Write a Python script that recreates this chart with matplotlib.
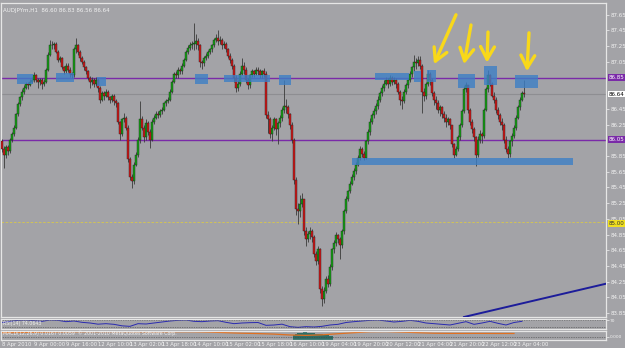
import numpy as np
import matplotlib
matplotlib.use("Agg")
import matplotlib.pyplot as plt
from matplotlib.patches import Rectangle

# AUDJPYm H1, one value per bar
first_open = 86.04
closes = [
    85.94, 85.86, 85.96, 85.91, 86.06, 86.13, 86.21, 86.38, 86.51, 86.60, 86.67, 86.72, 86.77, 86.75, 86.80, 86.82,
    86.88, 86.82, 86.80, 86.82, 86.77, 86.80, 86.95, 87.14, 87.27, 87.26, 87.28, 87.18, 87.08, 87.10, 86.98, 86.93,
    87.00, 86.95, 86.90, 86.88, 87.21, 87.26, 87.18, 87.10, 87.05, 86.98, 86.93, 86.85, 86.80, 86.82, 86.77, 86.82,
    86.72, 86.57, 86.65, 86.62, 86.67, 86.60, 86.57, 86.62, 86.55, 86.52, 86.29, 86.13, 86.32, 86.34, 86.21, 85.81,
    85.58, 85.53, 85.74, 85.87, 86.06, 86.32, 86.21, 86.09, 86.27, 86.16, 86.06, 86.29, 86.34, 86.39, 86.37, 86.42,
    86.44, 86.52, 86.55, 86.57, 86.67, 86.80, 86.90, 86.88, 86.95, 86.93, 87.00, 87.08, 87.18, 87.23, 87.27, 87.28,
    87.28, 87.31, 87.26, 87.05, 87.03, 87.10, 87.13, 87.18, 87.21, 87.26, 87.33, 87.36, 87.31, 87.33, 87.27, 87.28,
    87.21, 87.13, 87.08, 87.00, 86.85, 86.72, 86.77, 86.90, 87.00, 86.95, 86.82, 86.75, 86.88, 86.93, 86.90, 86.95,
    86.93, 86.88, 86.93, 86.90, 86.37, 86.32, 86.13, 86.21, 86.32, 86.19, 86.27, 86.34, 86.44, 86.49, 86.47, 86.38,
    86.25, 86.06, 85.55, 85.17, 85.15, 85.24, 85.30, 84.89, 84.79, 84.86, 84.89, 84.82, 84.60, 84.51, 84.66, 84.16,
    84.03, 84.13, 84.28, 84.22, 84.44, 84.66, 84.74, 84.84, 84.79, 84.72, 84.89, 85.15, 85.30, 85.40, 85.50, 85.58,
    85.66, 85.74, 85.83, 85.94, 85.88, 85.83, 86.04, 86.16, 86.29, 86.37, 86.42, 86.49, 86.57, 86.65, 86.72, 86.77,
    86.82, 86.77, 86.85, 86.80, 86.82, 86.77, 86.67, 86.57, 86.55, 86.67, 86.75, 86.82, 86.90, 86.98, 87.05, 87.03,
    87.08, 87.00, 86.67, 86.62, 86.77, 86.90, 86.82, 86.65, 86.57, 86.52, 86.44, 86.47, 86.39, 86.34, 86.29, 86.32,
    86.24, 86.00, 85.87, 85.94, 86.09, 86.24, 86.42, 86.70, 86.75, 86.44, 86.29, 86.19, 86.09, 85.87, 86.06, 86.13,
    86.11, 86.44, 86.70, 86.88, 86.77, 86.62, 86.57, 86.44, 86.37, 86.29, 86.24, 86.06, 85.94, 85.88, 86.04, 86.11,
    86.21, 86.34, 86.47, 86.57, 86.65, 86.64,
]
highs = [
    86.07, 85.98, 85.99, 85.99, 86.08, 86.16, 86.24, 86.40, 86.54, 86.62, 86.70, 86.75, 86.80, 86.80, 86.83, 86.86,
    86.92, 86.89, 86.85, 86.84, 86.84, 86.83, 86.97, 87.17, 87.33, 87.31, 87.30, 87.30, 87.20, 87.12, 87.11, 87.00,
    87.03, 87.03, 86.98, 86.92, 87.24, 87.36, 87.28, 87.20, 87.12, 87.07, 87.00, 86.95, 86.87, 86.86, 86.85, 86.86,
    86.84, 86.74, 86.68, 86.68, 86.70, 86.69, 86.62, 86.64, 86.64, 86.58, 86.54, 86.30, 86.34, 86.40, 86.36, 86.24,
    85.84, 85.62, 85.77, 85.90, 86.09, 86.55, 86.36, 86.25, 86.32, 86.30, 86.20, 86.32, 86.37, 86.42, 86.43, 86.45,
    86.47, 86.54, 86.58, 86.60, 86.70, 86.82, 86.92, 86.93, 86.98, 86.97, 87.03, 87.10, 87.20, 87.26, 87.30, 87.32,
    87.55, 87.40, 87.36, 87.28, 87.08, 87.12, 87.16, 87.20, 87.23, 87.28, 87.36, 87.40, 87.46, 87.38, 87.35, 87.32,
    87.30, 87.23, 87.16, 87.10, 87.02, 86.88, 86.82, 86.93, 87.10, 87.05, 86.98, 86.84, 86.90, 86.96, 86.95, 86.98,
    86.98, 86.96, 86.95, 86.97, 86.93, 86.42, 86.35, 86.25, 86.35, 86.34, 86.30, 86.37, 86.48, 86.82, 86.58, 86.50,
    86.40, 86.28, 86.08, 85.58, 85.25, 85.35, 85.38, 85.30, 84.95, 84.90, 84.95, 84.92, 84.84, 84.64, 84.70, 84.68,
    84.20, 84.18, 84.32, 84.34, 84.48, 84.68, 84.78, 84.88, 84.86, 84.82, 84.92, 85.18, 85.34, 85.42, 85.53, 85.62,
    85.70, 85.77, 85.86, 85.98, 85.97, 85.92, 86.06, 86.20, 86.33, 86.40, 86.46, 86.52, 86.62, 86.68, 86.76, 86.82,
    86.86, 86.85, 86.88, 86.87, 86.86, 86.84, 86.79, 86.69, 86.62, 86.70, 86.78, 86.85, 86.93, 87.00, 87.14, 87.10,
    87.12, 87.12, 87.02, 86.72, 86.80, 86.95, 86.92, 86.84, 86.68, 86.62, 86.56, 86.50, 86.49, 86.42, 86.38, 86.35,
    86.34, 86.25, 86.02, 85.98, 86.12, 86.27, 86.45, 86.74, 86.80, 86.76, 86.46, 86.32, 86.22, 86.10, 86.10, 86.18,
    86.16, 86.46, 86.73, 86.95, 86.90, 86.79, 86.66, 86.60, 86.48, 86.40, 86.34, 86.27, 86.10, 85.98, 86.06, 86.15,
    86.24, 86.37, 86.50, 86.60, 86.68, 86.82,
]
lows = [
    85.90, 85.70, 85.82, 85.86, 85.89, 86.03, 86.10, 86.19, 86.36, 86.49, 86.57, 86.64, 86.70, 86.71, 86.74, 86.78,
    86.80, 86.79, 86.72, 86.76, 86.70, 86.74, 86.78, 86.93, 87.12, 87.22, 87.22, 87.16, 87.05, 87.05, 86.96, 86.90,
    86.91, 86.92, 86.86, 86.84, 86.86, 87.16, 87.14, 87.06, 87.02, 86.95, 86.90, 86.82, 86.72, 86.75, 86.73, 86.74,
    86.66, 86.52, 86.55, 86.57, 86.60, 86.56, 86.52, 86.54, 86.50, 86.48, 86.26, 86.05, 86.10, 86.28, 86.18, 85.78,
    85.55, 85.44, 85.50, 85.72, 85.84, 86.02, 86.18, 86.03, 86.05, 86.12, 85.95, 86.04, 86.26, 86.32, 86.34, 86.35,
    86.38, 86.42, 86.49, 86.52, 86.55, 86.65, 86.78, 86.84, 86.85, 86.90, 86.90, 86.98, 87.06, 87.15, 87.20, 87.22,
    87.20, 87.22, 87.20, 86.98, 86.96, 87.00, 87.08, 87.10, 87.15, 87.18, 87.24, 87.30, 87.27, 87.28, 87.22, 87.23,
    87.18, 87.10, 87.04, 86.96, 86.80, 86.66, 86.68, 86.74, 86.88, 86.90, 86.78, 86.70, 86.72, 86.86, 86.86, 86.88,
    86.88, 86.84, 86.85, 86.86, 86.34, 86.15, 86.08, 86.04, 86.18, 86.12, 86.00, 86.22, 86.30, 86.40, 86.40, 86.34,
    86.20, 86.02, 85.50, 85.10, 84.98, 85.08, 85.20, 84.84, 84.70, 84.76, 84.80, 84.76, 84.56, 84.46, 84.48, 84.10,
    83.94, 83.98, 84.10, 84.18, 84.20, 84.40, 84.62, 84.70, 84.74, 84.54, 84.68, 84.86, 85.12, 85.28, 85.38, 85.48,
    85.55, 85.62, 85.72, 85.80, 85.84, 85.80, 85.81, 86.00, 86.12, 86.26, 86.33, 86.38, 86.45, 86.54, 86.62, 86.68,
    86.76, 86.72, 86.74, 86.75, 86.77, 86.72, 86.64, 86.50, 86.45, 86.52, 86.64, 86.72, 86.79, 86.86, 86.94, 86.96,
    87.00, 86.96, 86.40, 86.55, 86.58, 86.74, 86.76, 86.62, 86.50, 86.45, 86.40, 86.36, 86.34, 86.28, 86.22, 86.25,
    86.20, 85.96, 85.82, 85.85, 85.92, 86.06, 86.22, 86.40, 86.66, 86.40, 86.24, 86.14, 86.04, 85.72, 85.84, 86.02,
    86.02, 86.08, 86.42, 86.66, 86.74, 86.60, 86.52, 86.40, 86.32, 86.24, 86.18, 86.02, 85.90, 85.82, 85.84, 85.98,
    86.08, 86.18, 86.32, 86.44, 86.55, 86.60,
]

time_labels = ["8 Apr 2010", "9 Apr 00:00", "9 Apr 16:00", "12 Apr 10:00", "13 Apr 02:00",
               "13 Apr 18:00", "14 Apr 10:00", "15 Apr 02:00", "15 Apr 18:00", "16 Apr 10:00",
               "19 Apr 04:00", "19 Apr 20:00", "20 Apr 12:00", "21 Apr 04:00", "21 Apr 20:00",
               "22 Apr 12:00", "23 Apr 04:00"]
price_ticks = [87.65, 87.45, 87.25, 87.05, 86.45, 86.25, 85.85, 85.65,
               85.45, 85.25, 85.05, 84.85, 84.65, 84.45, 84.25, 84.05, 83.85]

# horizontal levels
resist = 86.85
support = 86.06
bid = 86.64
yellow_level = 85.01

# zones: (bar start, bar end, price low, price high)
zones = [(7.5, 15.5, 86.77, 86.90), (27, 36, 86.80, 86.91), (47.5, 52, 86.74, 86.86),
         (96.5, 103, 86.77, 86.89), (111, 134, 86.79, 86.88), (138.5, 144.5, 86.75, 86.88),
         (186.5, 203.5, 86.82, 86.91), (206, 209.5, 86.80, 86.93), (212.5, 217, 86.79, 86.95),
         (228, 236.5, 86.72, 86.90), (241, 247.5, 86.75, 87.00), (256.5, 268, 86.72, 86.88),
         (175, 285.5, 85.73, 85.83)]
# arrows: tail bar, tail price, head bar, head price
arrows = [(227, 87.65, 216, 87.02), (234.5, 87.52, 231, 87.02),
          (243, 87.43, 242.5, 87.04), (263.5, 87.42, 262.5, 86.93)]
trend = ([231, 303], [83.80, 84.23])

# lower panels (RSI every 4 bars, MACD-like signal every 8 bars)
rsi = [55, 62, 68, 70, 66, 62, 70, 68, 60, 64, 56, 52, 45, 48, 44, 35,
       32, 48, 46, 52, 58, 64, 68, 70, 62, 60, 64, 66, 56, 48, 52, 54,
       55, 38, 40, 45, 30, 26, 30, 28, 32, 40, 44, 55, 60, 64, 68, 70,
       64, 58, 62, 68, 62, 52, 48, 44, 40, 50, 60, 44, 52, 62, 50, 40, 55, 62]
signal = [7.6, 7.8, 8.0, 8.3, 8.5, 8.6, 8.7, 8.7, 8.6, 8.5, 8.5, 8.6, 8.6, 8.2, 7.6, 7.0, 6.6,
          6.0, 5.0, 4.6, 5.2, 6.4, 7.6, 8.6, 8.8, 8.2, 7.6, 7.0, 6.8, 6.8, 6.8, 6.7, 6.7]
hist = [5, 6, 7, 7, 7, 8, 8, 7, 7, 7, 7, 6, 6, 6, 6, 5, 5, 5, 4, 4]

bg = "#a3a3a7"
fg = "#f2f2f2"
W, H = 625, 348

def box(x0, y0, x1, y1):
    return [x0 / W, 1 - y1 / H, (x1 - x0) / W, (y1 - y0) / H]

fig = plt.figure(figsize=(6.25, 3.48), dpi=100, facecolor=bg)
ax = fig.add_axes(box(1, 3, 606, 317))
ax1 = fig.add_axes(box(1, 318.5, 606, 329), sharex=ax)
ax2 = fig.add_axes(box(1, 330.5, 606, 339.5), sharex=ax)

for a in (ax, ax1, ax2):
    a.set_facecolor(bg)
    for s in a.spines.values():
        s.set_color("#e6e6e6")
        s.set_linewidth(0.9)
    a.yaxis.tick_right()
    a.tick_params(axis="y", colors=fg, labelsize=4, length=2, width=0.5, pad=1)
    a.tick_params(axis="x", colors=fg, labelsize=3.8, length=1, width=0.5, pad=0.5)
ax.set_xlim(-0.5, 302)

# candles
o = np.array([first_open] + closes[:-1])
c = np.array(closes)
hi = np.array(highs)
lo = np.array(lows)
idx = np.arange(len(c))
up = c >= o
ax.vlines(idx, lo, hi, color="#3a3a3a", lw=0.6, zorder=3)
ax.bar(idx[up], np.maximum(c - o, 0.01)[up], bottom=o[up], width=0.85,
       color="#15a015", edgecolor="#1c2a1c", lw=0.3, zorder=4)
ax.bar(idx[~up], np.maximum(o - c, 0.01)[~up], bottom=c[~up], width=0.85,
       color="#d01818", edgecolor="#2a1c1c", lw=0.3, zorder=4)

# levels
ax.axhline(resist, color="#7a2aa8", lw=1.0, zorder=2)
ax.axhline(support, color="#7a2aa8", lw=1.0, zorder=2)
ax.axhline(bid, color="#8e8e92", lw=0.8, zorder=1)
ax.axhline(yellow_level, color="#d8c84a", lw=0.6, ls=(0, (3, 2)), zorder=1)

for x0, x1, p0, p1 in zones:
    ax.add_patch(Rectangle((x0, p0), x1 - x0, p1 - p0, facecolor="#3d7fc6",
                           edgecolor="none", alpha=0.8, zorder=5))

ax.plot(trend[0], trend[1], color="#1c1c9a", lw=1.4, zorder=6, clip_on=True)

for tx, tp, hx, hp in arrows:
    ax.annotate("", xy=(hx, hp), xytext=(tx, tp),
                arrowprops=dict(arrowstyle="->,head_length=0.9,head_width=0.5",
                                color="#f8d81a", lw=2.4, shrinkA=0, shrinkB=0), zorder=7)

ax.set_ylim(83.80, 87.80)
ax.set_yticks(price_ticks)
ax.set_yticklabels([f"{p:.2f}" for p in price_ticks])
ax.tick_params(axis="x", length=0, labelbottom=False)

tag = dict(fontsize=4, va="center", ha="left", transform=ax.get_yaxis_transform())
ax.text(1.004, resist, f"{resist:.2f}", color="white",
        bbox=dict(boxstyle="square,pad=0.15", fc="#7a2aa8", ec="none"), **tag)
ax.text(1.004, support, "86.05", color="white",
        bbox=dict(boxstyle="square,pad=0.15", fc="#7a2aa8", ec="none"), **tag)
ax.text(1.004, bid, f"{bid:.2f}", color="black",
        bbox=dict(boxstyle="square,pad=0.15", fc="white", ec="none"), **tag)
ax.text(1.004, yellow_level - 0.02, "85.00", color="#303030",
        bbox=dict(boxstyle="square,pad=0.15", fc="#f0e020", ec="none"), **tag)

ax.text(0.004, 0.985, "AUDJPYm,H1  86.60 86.83 86.56 86.64", transform=ax.transAxes,
        fontsize=4, color=fg, va="top", ha="left")

# RSI panel
ax1.plot(np.arange(0, 4 * len(rsi), 4), rsi, color="#2a2ab0", lw=0.7)
ax1.axhline(70, color="#404040", lw=0.5, ls=(0, (1, 1.5)))
ax1.axhline(30, color="#404040", lw=0.5, ls=(0, (1, 1.5)))
ax1.set_ylim(16, 79)
ax1.set_yticks([70])
ax1.set_yticklabels(["70"])
ax1.tick_params(axis="y", labelsize=3.2)
ax1.tick_params(axis="x", length=0, labelbottom=False)
ax1.text(0.004, 0.5, "RSI(14) 74.0643", transform=ax1.transAxes, fontsize=3.4,
         color=fg, va="center", ha="left")

# MACD-like panel
ax2.bar(np.arange(146, 146 + len(hist)), hist, width=0.8, color="#2f6e66", lw=0)
ax2.plot(np.arange(0, 8 * len(signal), 8), signal, color="#e07020", lw=0.9)
ax2.axhline(3, color="#404040", lw=0.5, ls=(0, (1, 1.5)))
ax2.set_ylim(0, 10)
ax2.set_yticks([3])
ax2.set_yticklabels(["0.000"])
ax2.tick_params(axis="y", labelsize=3.2)
ax2.text(0.004, 0.72, "MACD(12,26,9) 0.0167 0.0059  \u00a9 2001-2010 MetaQuotes Software Corp.",
         transform=ax2.transAxes, fontsize=3.4, color=fg, va="center", ha="left")

ax2.set_xticks(np.arange(0, 16 * len(time_labels), 16))
ax2.set_xticklabels(time_labels, ha="left")

fig.savefig("out.png", dpi=100, facecolor=bg)
